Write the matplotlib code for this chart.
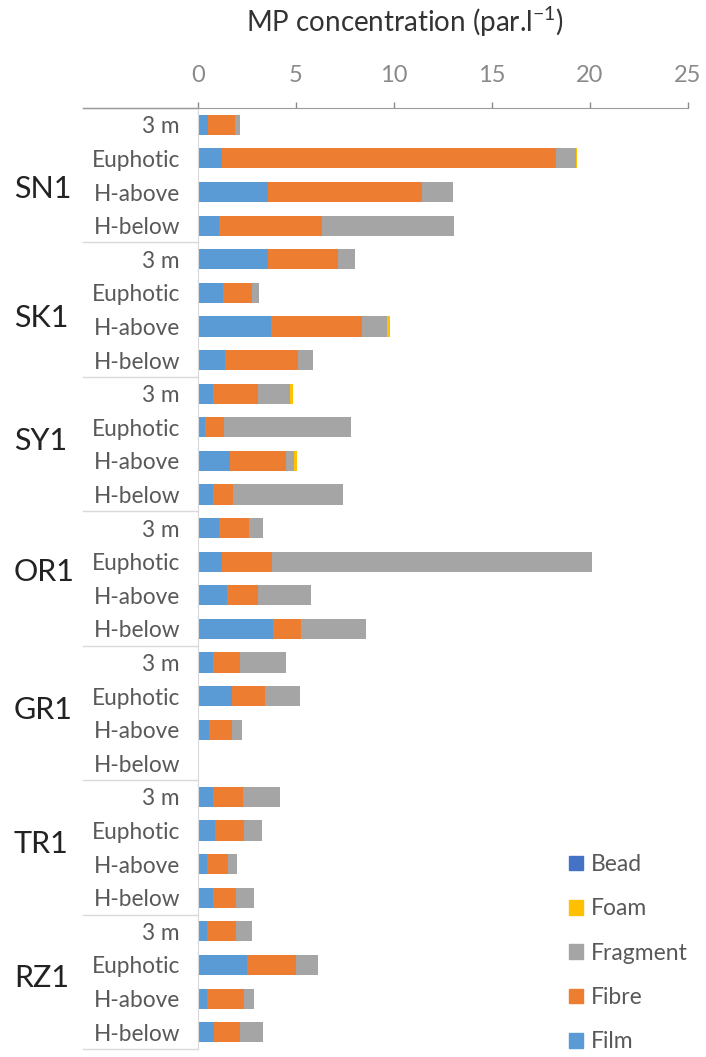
import numpy as np
import matplotlib
matplotlib.use("Agg")
import matplotlib.pyplot as plt
from matplotlib.transforms import blended_transform_factory
from matplotlib.patches import Patch

plt.rcParams["font.family"] = ["Lato", "DejaVu Sans"]

sites = ["SN1", "SK1", "SY1", "OR1", "GR1", "TR1", "RZ1"]
depths = ["3 m", "Euphotic", "H-above", "H-below"]

# particles per litre, rows in site order, 4 depths each
film = [0.53, 1.24, 3.59, 1.07,
        3.59, 1.30, 3.71, 1.38,
        0.75, 0.36, 1.63, 0.75,
        1.09, 1.24, 1.46, 3.84,
        0.78, 1.72, 0.58, 0.0,
        0.75, 0.87, 0.44, 0.78,
        0.46, 2.50, 0.46, 0.82]
fibre = [1.36, 17.03, 7.85, 5.27,
         3.57, 1.47, 4.64, 3.74,
         2.33, 0.97, 2.84, 1.02,
         1.51, 2.52, 1.62, 1.42,
         1.36, 1.70, 1.14, 0.0,
         1.56, 1.49, 1.11, 1.14,
         1.48, 2.50, 1.89, 1.33]
fragment = [0.25, 1.03, 1.55, 6.74,
            0.85, 0.34, 1.31, 0.76,
            1.61, 6.48, 0.43, 5.64,
            0.73, 16.36, 2.69, 3.29,
            2.33, 1.78, 0.54, 0.0,
            1.87, 0.92, 0.45, 0.94,
            0.82, 1.12, 0.50, 1.17]
foam = [0.0, 0.06, 0.0, 0.0,
        0.0, 0.0, 0.13, 0.0,
        0.14, 0.0, 0.17, 0.0,
        0.0, 0.0, 0.0, 0.0,
        0.0, 0.0, 0.0, 0.0,
        0.0, 0.0, 0.0, 0.0,
        0.0, 0.0, 0.0, 0.0]
bead = [0.0] * 28

types = ["Film", "Fibre", "Fragment", "Foam", "Bead"]
colours = {"Film": "#5B9BD5", "Fibre": "#ED7D31", "Fragment": "#A5A5A5",
           "Foam": "#FFC000", "Bead": "#4472C4"}
values = {"Film": film, "Fibre": fibre, "Fragment": fragment,
          "Foam": foam, "Bead": bead}

# vertical spot of each site name inside its block of four rows
site_label_row = [1.9, 1.75, 1.4, 1.3, 1.4, 1.4, 1.4]

fig = plt.figure(figsize=(7.06, 10.57), dpi=100)
ax = fig.add_axes([198 / 706, 1 - 1049 / 1057, 490 / 706, 941 / 1057])

rows = np.arange(len(film))
left = np.zeros(len(film))
for t in types:
    v = np.array(values[t])
    ax.barh(rows, v, left=left, height=0.6, color=colours[t], label=t)
    left += v

ax.set_xlim(0, 25)
ax.set_ylim(len(film) - 0.5, -0.5)
ax.set_xticks([0, 5, 10, 15, 20, 25])
ax.xaxis.tick_top()
ax.tick_params(axis="x", colors="#8a8a8a", labelsize=17, length=4, width=1, pad=12,
               labelcolor="#8a8a8a")
ax.set_yticks(rows)
ax.set_yticklabels(depths * len(sites), fontsize=16.3, color="#595959")
ax.tick_params(axis="y", length=0, pad=13)

for s in ["right", "bottom"]:
    ax.spines[s].set_visible(False)
ax.spines["top"].set_color("#9a9a9a")
ax.spines["left"].set_color("#d9d9d9")

fig.text(405 / 706, 1 - 22 / 1057, r"MP concentration (par.l$^{\mathregular{-1}}$)",
         ha="center", va="center", fontsize=20, color="#333333")

# site names and separators in the left margin
trans = blended_transform_factory(fig.transFigure, ax.transData)
x0 = 83 / 706
x1 = 198 / 706
for i, site in enumerate(sites):
    ax.text(14 / 706, i * 4 + site_label_row[i], site, transform=trans,
            ha="left", va="center", fontsize=22, color="#222222", clip_on=False)
    ax.plot([x0, x1], [i * 4 - 0.5, i * 4 - 0.5], transform=trans,
            color="#d9d9d9", lw=1, clip_on=False)
ax.plot([x0, x1], [len(film) - 0.5, len(film) - 0.5], transform=trans,
        color="#d9d9d9", lw=1, clip_on=False)
ax.plot([x0, x1], [-0.5, -0.5], transform=trans, color="#9a9a9a", lw=1, clip_on=False)

handles = [Patch(color=colours[t], label=t) for t in ["Bead", "Foam", "Fragment", "Fibre", "Film"]]
leg = fig.legend(handles=handles, loc="upper left", bbox_to_anchor=(569 / 706, 1 - 854 / 1057),
                 frameon=False, fontsize=16.5, handlelength=0.6, handleheight=0.6,
                 handletextpad=0.35, labelspacing=1.02, borderpad=0, borderaxespad=0)
for txt in leg.get_texts():
    txt.set_color("#595959")

fig.savefig("out.png", dpi=100)
